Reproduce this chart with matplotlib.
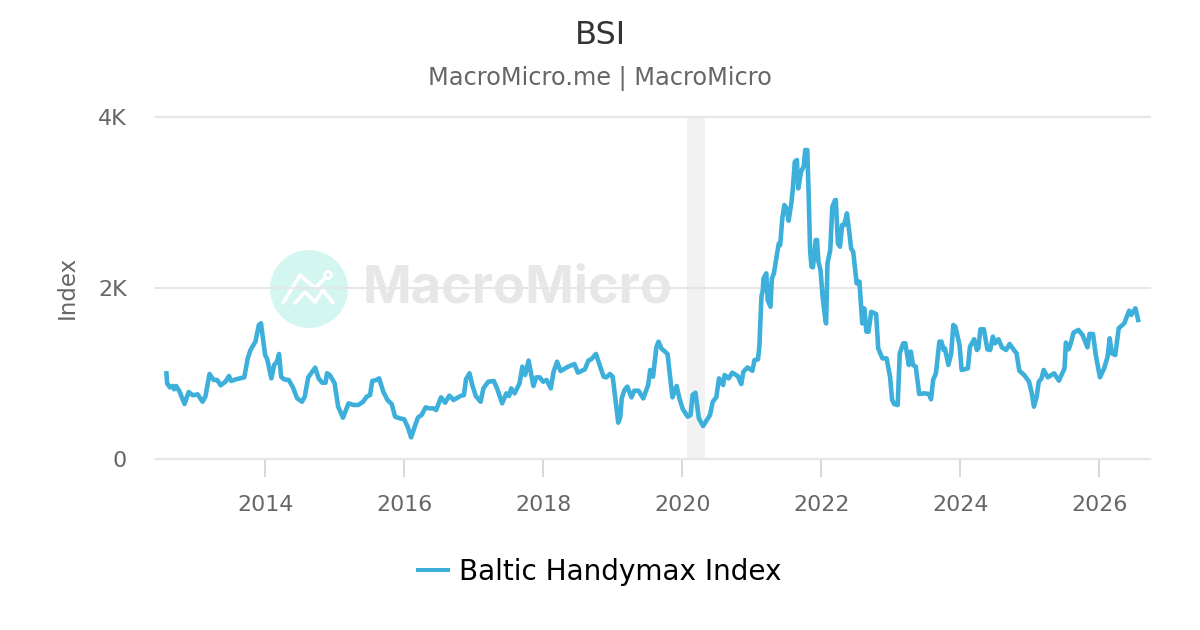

import matplotlib

matplotlib.use("Agg")
import matplotlib.pyplot as plt  # noqa: E402
from matplotlib.patches import Circle  # noqa: E402

YEARS = [
    2012.58, 2012.59, 2012.63, 2012.67, 2012.69, 2012.72, 2012.77, 2012.84, 2012.90, 2012.96,
    2013.03, 2013.10, 2013.14, 2013.20, 2013.26, 2013.31, 2013.36, 2013.43, 2013.48, 2013.51,
    2013.58, 2013.64, 2013.70, 2013.75, 2013.79, 2013.86, 2013.91, 2013.94, 2014.00, 2014.03,
    2014.09, 2014.13, 2014.17, 2014.20, 2014.23, 2014.27, 2014.34, 2014.40, 2014.46, 2014.53,
    2014.57, 2014.62, 2014.72, 2014.77, 2014.82, 2014.87, 2014.89, 2014.93, 2015.00, 2015.05,
    2015.12, 2015.20, 2015.27, 2015.34, 2015.41, 2015.46, 2015.51, 2015.54, 2015.60, 2015.64,
    2015.70, 2015.76, 2015.82, 2015.87, 2015.94, 2016.00, 2016.05, 2016.10, 2016.16, 2016.20,
    2016.25, 2016.31, 2016.36, 2016.42, 2016.46, 2016.53, 2016.59, 2016.65, 2016.71, 2016.81,
    2016.86, 2016.89, 2016.94, 2016.98, 2017.03, 2017.10, 2017.14, 2017.21, 2017.29, 2017.34,
    2017.41, 2017.47, 2017.51, 2017.54, 2017.59, 2017.66, 2017.70, 2017.74, 2017.79, 2017.86,
    2017.90, 2017.95, 2018.00, 2018.05, 2018.11, 2018.15, 2018.20, 2018.25, 2018.36, 2018.45,
    2018.50, 2018.60, 2018.65, 2018.69, 2018.76, 2018.82, 2018.87, 2018.91, 2018.96, 2019.00,
    2019.04, 2019.08, 2019.11, 2019.13, 2019.17, 2019.21, 2019.27, 2019.31, 2019.37, 2019.44,
    2019.51, 2019.54, 2019.58, 2019.63, 2019.66, 2019.70, 2019.79, 2019.82, 2019.86, 2019.92,
    2019.96, 2020.01, 2020.08, 2020.12, 2020.15, 2020.19, 2020.24, 2020.30, 2020.40, 2020.44,
    2020.49, 2020.53, 2020.59, 2020.61, 2020.67, 2020.72, 2020.80, 2020.85, 2020.88, 2020.94,
    2021.01, 2021.04, 2021.09, 2021.11, 2021.14, 2021.16, 2021.17, 2021.21, 2021.23, 2021.27,
    2021.29, 2021.32, 2021.35, 2021.39, 2021.41, 2021.44, 2021.47, 2021.50, 2021.53, 2021.57,
    2021.59, 2021.62, 2021.65, 2021.67, 2021.71, 2021.75, 2021.77, 2021.80, 2021.82, 2021.84,
    2021.86, 2021.88, 2021.90, 2021.92, 2021.94, 2021.96, 2021.99, 2022.02, 2022.06, 2022.07,
    2022.09, 2022.13, 2022.16, 2022.20, 2022.21, 2022.24, 2022.27, 2022.30, 2022.33, 2022.37,
    2022.40, 2022.43, 2022.46, 2022.51, 2022.55, 2022.59, 2022.62, 2022.65, 2022.68, 2022.72,
    2022.79, 2022.82, 2022.88, 2022.94, 2022.99, 2023.02, 2023.05, 2023.10, 2023.13, 2023.18,
    2023.21, 2023.26, 2023.29, 2023.32, 2023.36, 2023.41, 2023.48, 2023.55, 2023.58, 2023.61,
    2023.65, 2023.70, 2023.73, 2023.76, 2023.78, 2023.83, 2023.87, 2023.90, 2023.93, 2023.99,
    2024.02, 2024.11, 2024.14, 2024.20, 2024.24, 2024.26, 2024.29, 2024.34, 2024.39, 2024.43,
    2024.47, 2024.50, 2024.55, 2024.60, 2024.66, 2024.71, 2024.78, 2024.81, 2024.85, 2024.92,
    2024.99, 2025.03, 2025.06, 2025.10, 2025.13, 2025.17, 2025.20, 2025.26, 2025.35, 2025.42,
    2025.50, 2025.52, 2025.56, 2025.59, 2025.63, 2025.70, 2025.76, 2025.83, 2025.86, 2025.91,
    2025.95, 2026.01, 2026.07, 2026.12, 2026.15, 2026.18, 2026.23, 2026.28, 2026.36, 2026.43,
    2026.46, 2026.52, 2026.56,
]
HANDYMAX = [
    1002, 885, 838, 854, 815, 854, 787, 643, 784, 745,
    756, 670, 729, 994, 924, 924, 862, 905, 971, 912,
    932, 943, 955, 1178, 1275, 1372, 1567, 1587, 1216, 1166,
    943, 1100, 1138, 1228, 963, 932, 924, 838, 710, 670,
    729, 955, 1068, 943, 893, 893, 1002, 982, 885, 612,
    483, 651, 632, 632, 670, 729, 748, 912, 924, 943,
    787, 690, 643, 495, 475, 464, 378, 253, 398, 487,
    514, 604, 592, 592, 573, 721, 659, 741, 690, 737,
    748, 932, 1002, 865, 737, 670, 826, 904, 912, 819,
    651, 768, 737, 826, 768, 885, 1080, 982, 1150, 854,
    955, 955, 904, 924, 826, 1021, 1138, 1029, 1080, 1111,
    1010, 1049, 1150, 1166, 1228, 1080, 963, 955, 994, 963,
    690, 425, 495, 709, 807, 846, 721, 799, 799, 709,
    865, 1041, 963, 1314, 1372, 1294, 1228, 1002, 721, 854,
    709, 581, 495, 514, 748, 776, 475, 386, 514, 670,
    721, 943, 865, 982, 943, 1009, 970, 876, 1020, 1071,
    1032, 1157, 1165, 1313, 1898, 1976, 2112, 2171, 1859, 1781,
    2112, 2171, 2327, 2522, 2502, 2814, 2970, 2931, 2787, 2990,
    3146, 3477, 3497, 3165, 3360, 3427, 3614, 3614, 3068, 2444,
    2249, 2241, 2386, 2561, 2561, 2307, 2210, 1898, 1625, 1586,
    2288, 2444, 2951, 3029, 3029, 2522, 2483, 2736, 2736, 2873,
    2678, 2463, 2424, 2054, 2074, 1586, 1761, 1489, 1489, 1722,
    1695, 1294, 1177, 1177, 963, 690, 643, 631, 1236, 1353,
    1353, 1100, 1256, 1100, 1080, 760, 768, 760, 698, 924,
    1002, 1373, 1373, 1275, 1294, 1100, 1236, 1568, 1548, 1334,
    1041, 1060, 1314, 1400, 1275, 1294, 1517, 1517, 1283, 1275,
    1431, 1353, 1400, 1306, 1275, 1345, 1267, 1236, 1033, 982,
    904, 768, 612, 729, 904, 943, 1041, 955, 1002, 916,
    1060, 1361, 1283, 1353, 1478, 1509, 1450, 1306, 1462, 1462,
    1216, 955, 1060, 1197, 1412, 1236, 1216, 1529, 1587, 1735,
    1685, 1763, 1626,
]
X_TICKS = [2014, 2016, 2018, 2020, 2022, 2024, 2026]
Y_TICKS = [0, 2000, 4000]
Y_LABELS = ["0", "2K", "4K"]
RECESSION = [2020.07, 2020.33]

LINE = "#3cafda"
TXT = "#666666"

plt.rcParams["font.family"] = ["DejaVu Sans"]

fig = plt.figure(figsize=(12, 6.3), dpi=100)
# axes box in pixels: x 156..1150, y 117..459 from the top
ax = fig.add_axes([156 / 1200, 1 - 459 / 630, 994 / 1200, 342 / 630])
ax.set_xlim(2012.43, 2026.73)
ax.set_ylim(0, 4000)
ax.patch.set_alpha(0)
ax.set_zorder(2)

ax.axvspan(*RECESSION, color="#f2f2f2", lw=0, zorder=1)
ax.grid(axis="y", color="#e6e6e6", lw=1.5, zorder=2, clip_on=False)
ax.set_axisbelow(False)
ax.plot(YEARS, HANDYMAX, color=LINE, lw=3.3, solid_joinstyle="round", zorder=5,
        label="Baltic Handymax Index")

for s in ("top", "left", "right"):
    ax.spines[s].set_visible(False)
ax.spines["bottom"].set_color("#d8d8d8")
ax.spines["bottom"].set_linewidth(1.5)
ax.set_xticks(X_TICKS)
ax.set_yticks(Y_TICKS, Y_LABELS)
ax.tick_params(axis="x", length=13, width=1.4, color="#d8d8d8", labelsize=15.9,
               labelcolor=TXT, pad=13)
ax.tick_params(axis="y", length=0, labelsize=16, labelcolor=TXT, pad=21)
ax.set_ylabel("Index", fontsize=16.5, color=TXT)
ax.yaxis.set_label_coords(79 / 1200, 1 - 287 / 630, transform=fig.transFigure)

# watermark sits under the grid, drawn in figure pixels
fig.add_artist(Circle((309, 630 - 289), 39, transform=None, fc="#d4f6f1", ec="none", zorder=0))
for xs, ys in (
    ([283, 300, 315, 325], [303, 275, 288, 278]),
    ([295, 305, 315, 323, 333], [303, 292, 302, 290, 303]),
):
    fig.add_artist(plt.Line2D([v / 1200 for v in xs], [1 - v / 630 for v in ys],
                              color="white", lw=2.6, solid_capstyle="round", zorder=0))
fig.add_artist(Circle((328, 630 - 275), 3.5, transform=None, fc="none", ec="white", lw=2, zorder=0))
fig.text(362 / 1200, 1 - 289 / 630, "MacroMicro", family="Inter", weight="bold",
         fontsize=37.6, color="#e6e7e9", va="center", ha="left", zorder=0)

fig.text(0.5, 1 - 35 / 630, "BSI", ha="center", va="center", fontsize=23, color="#333333")
fig.text(0.5, 1 - 78.5 / 630, "MacroMicro.me | MacroMicro", ha="center", va="center",
         fontsize=17.3, color=TXT)

leg = fig.legend(loc="center", bbox_to_anchor=(0.5, 1 - 571.5 / 630), frameon=False,
                 fontsize=20.1, handlelength=1.08, handletextpad=0.4)
leg.legend_handles[0].set_linewidth(2.9)

fig.savefig("out.png", dpi=100)
